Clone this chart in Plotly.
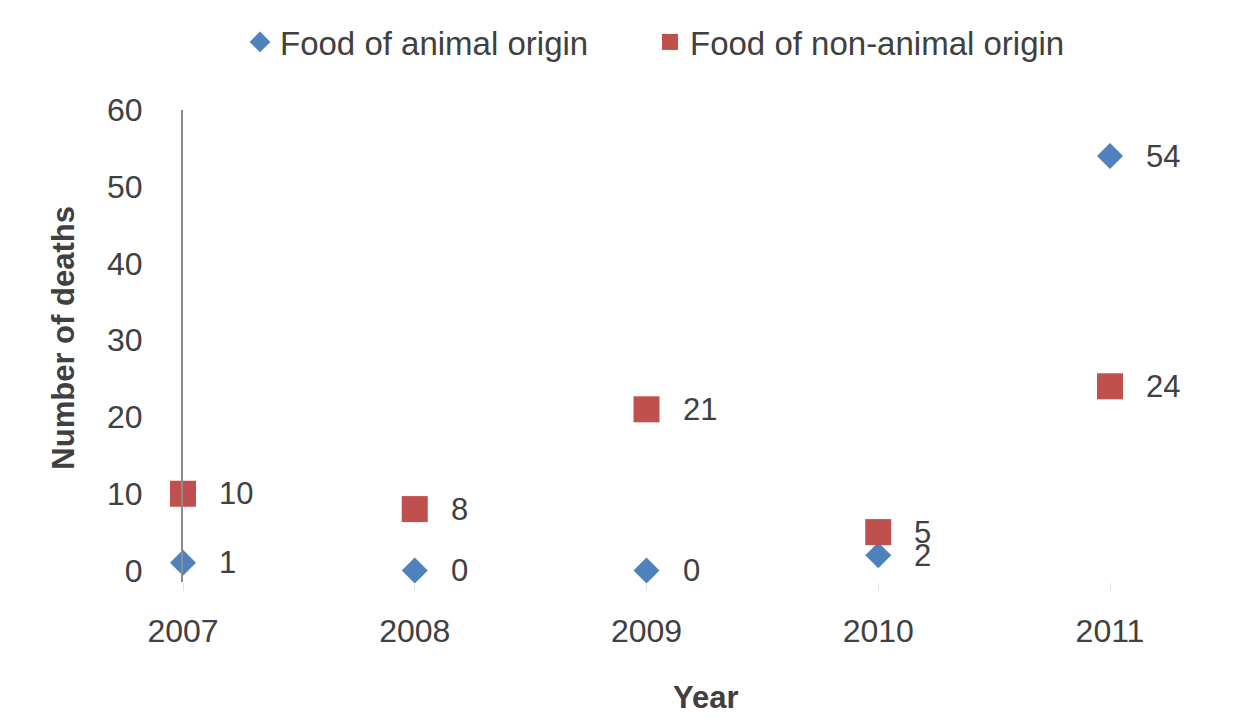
import plotly.graph_objects as go

years = [2007, 2008, 2009, 2010, 2011]
year_labels = ["2007", "2008", "2009", "2010", "2011"]
animal = [1, 0, 0, 2, 54]
non_animal = [10, 8, 21, 5, 24]
y_ticks = [0, 10, 20, 30, 40, 50, 60]

BLUE = "#4F81BD"
RED = "#C0504D"
TXT = "#404040"
FONT = "Liberation Sans, Arial, sans-serif"

fig = go.Figure()
fig.add_trace(go.Scatter(
    x=years, y=animal, mode="markers", name="Food of animal origin",
    marker=dict(symbol="diamond", size=20, color=BLUE),
    cliponaxis=False, legendwidth=365,
))
fig.add_trace(go.Scatter(
    x=years, y=non_animal, mode="markers", name="Food of non-animal origin",
    marker=dict(symbol="square", size=26, color=RED),
    cliponaxis=False, legendwidth=385,
))

annotations = []
for series in (animal, non_animal):
    for xv, yv in zip(years, series):
        annotations.append(dict(
            x=xv, y=yv, xref="x", yref="y", text=str(yv), showarrow=False,
            xanchor="left", yanchor="middle", xshift=34,
            font=dict(family=FONT, size=31, color=TXT),
        ))

annotations.append(dict(
    x=-0.12, y=0.5185, xref="paper", yref="paper", text="<b>Number of deaths</b>",
    textangle=-90, showarrow=False, xanchor="center", yanchor="middle",
    font=dict(family=FONT, size=31, color=TXT),
))
annotations.append(dict(
    x=0.5246, y=-0.2444, xref="paper", yref="paper", text="<b>Year</b>",
    showarrow=False, xanchor="center", yanchor="middle",
    font=dict(family=FONT, size=31, color=TXT),
))

fig.update_layout(
    width=1250, height=719,
    margin=dict(l=183, r=70, t=110, b=136.5),
    paper_bgcolor="white", plot_bgcolor="white",
    font=dict(family=FONT, size=32, color=TXT),
    showlegend=True,
    legend=dict(
        orientation="h", xref="container", yref="container",
        x=0.192, y=0.9416, xanchor="left", yanchor="middle",
        font=dict(family=FONT, size=33, color=TXT),
        bgcolor="rgba(0,0,0,0)",
    ),
    xaxis=dict(
        range=[2007, 2011.302], tickvals=years, ticktext=year_labels,
        showline=False, showgrid=False, zeroline=False,
        ticks="outside", ticklen=8, tickcolor="#e0e0e0", tickwidth=1,
        ticklabelstandoff=13,
        tickfont=dict(family=FONT, size=32, color=TXT),
    ),
    yaxis=dict(
        range=[-1.5, 60], tickvals=y_ticks,
        showline=True, linecolor="#8c8c8c", linewidth=2,
        showgrid=False, zeroline=False,
        ticklabelstandoff=32,
        tickfont=dict(family=FONT, size=32, color=TXT),
    ),
    annotations=annotations,
)

fig.write_html(
    "out.html",
    config={"displayModeBar": False},
    post_script="document.body.style.margin='0px';document.body.style.overflow='hidden';",
)
